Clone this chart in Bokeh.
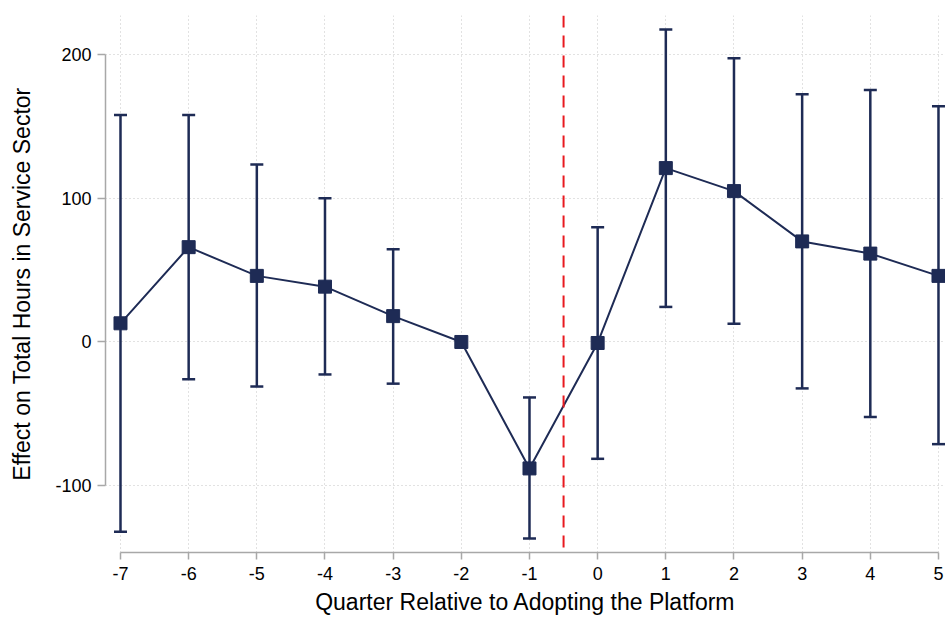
from bokeh.plotting import figure
from bokeh.models import ColumnDataSource, Whisker, TeeHead, Span, FixedTicker, Range1d
from bokeh.embed import file_html
from bokeh.resources import INLINE

# Data
quarters = [-7, -6, -5, -4, -3, -2, -1, 0, 1, 2, 3, 4, 5]
effects = [13, 66, 46, 38.5, 18, 0, -88, -0.7, 121, 105, 70, 61.5, 46]
ci_quarters = [-7, -6, -5, -4, -3, -1, 0, 1, 2, 3, 4, 5]
ci_upper = [158, 158, 123.5, 100, 64.6, -38.6, 79.8, 217.5, 197.4, 172.4, 175.4, 164]
ci_lower = [-132, -26, -31, -22.6, -29, -136.7, -81.3, 24.4, 12.7, -32.3, -52.2, -71.1]
x_ticks = [-7, -6, -5, -4, -3, -2, -1, 0, 1, 2, 3, 4, 5]
y_ticks = [-100, 0, 100, 200]
event_line = -0.5

NAVY = "#1e2b55"
FONT = "Liberation Sans"

p = figure(width=945, height=617, output_backend="svg", toolbar_location=None,
           x_range=Range1d(-7.22, 5.103), y_range=Range1d(-146.5, 227.2),
           min_border_left=105, min_border_top=15, min_border_right=0, min_border_bottom=62)
p.outline_line_color = None
p.background_fill_color = "white"

# grids
for g in (p.xgrid, p.ygrid):
    g.grid_line_color = "#c4c4c4"
    g.grid_line_dash = "1 3"
    g.grid_line_width = 1
p.xgrid.ticker = FixedTicker(ticks=x_ticks)
p.ygrid.ticker = FixedTicker(ticks=y_ticks)

# axes
p.xaxis.ticker = FixedTicker(ticks=x_ticks)
p.yaxis.ticker = FixedTicker(ticks=y_ticks)
p.xaxis.major_label_overrides = {t: str(t) for t in x_ticks}
p.yaxis.major_label_overrides = {t: str(t) for t in y_ticks}
p.xaxis.bounds = (x_ticks[0], x_ticks[-1])
p.yaxis.bounds = (y_ticks[0], y_ticks[-1])
for ax in (p.xaxis[0], p.yaxis[0]):
    ax.axis_line_color = "#a8a8a8"
    ax.axis_line_width = 1.5
    ax.major_tick_line_color = "#a8a8a8"
    ax.major_tick_line_width = 1.5
    ax.major_tick_in = 0
    ax.minor_tick_line_color = None
    ax.major_label_text_font = FONT
    ax.major_label_text_font_size = "18px"
    ax.major_label_text_color = "black"
    ax.axis_label_text_font = FONT
    ax.axis_label_text_font_size = "23px"
    ax.axis_label_text_font_style = "normal"
    ax.axis_label_text_color = "black"
p.xaxis.major_tick_out = 7
p.yaxis.major_tick_out = 8
p.xaxis.axis_label = "Quarter Relative to Adopting the Platform"
p.yaxis.axis_label = "Effect on Total Hours in Service Sector"
p.xaxis.major_label_standoff = 7
p.xaxis.axis_label_standoff = 6
p.yaxis.major_label_standoff = 6
p.yaxis.axis_label_standoff = 17

# event line
p.add_layout(Span(location=event_line, dimension="height", line_color="#e8191f",
                  line_dash="12 8", line_width=2))

# confidence intervals
ci_src = ColumnDataSource(dict(x=ci_quarters, upper=ci_upper, lower=ci_lower))
w = Whisker(source=ci_src, base="x", upper="upper", lower="lower", dimension="height",
            line_color=NAVY, line_width=2.5,
            upper_head=TeeHead(size=13, line_color=NAVY, line_width=2.5),
            lower_head=TeeHead(size=13, line_color=NAVY, line_width=2.5))
p.add_layout(w)

src = ColumnDataSource(dict(x=quarters, y=effects))
p.line("x", "y", source=src, line_color=NAVY, line_width=2)
p.scatter("x", "y", source=src, marker="square", size=13, fill_color=NAVY, line_color=NAVY)

open("out.html", "w").write(file_html(p, INLINE))
